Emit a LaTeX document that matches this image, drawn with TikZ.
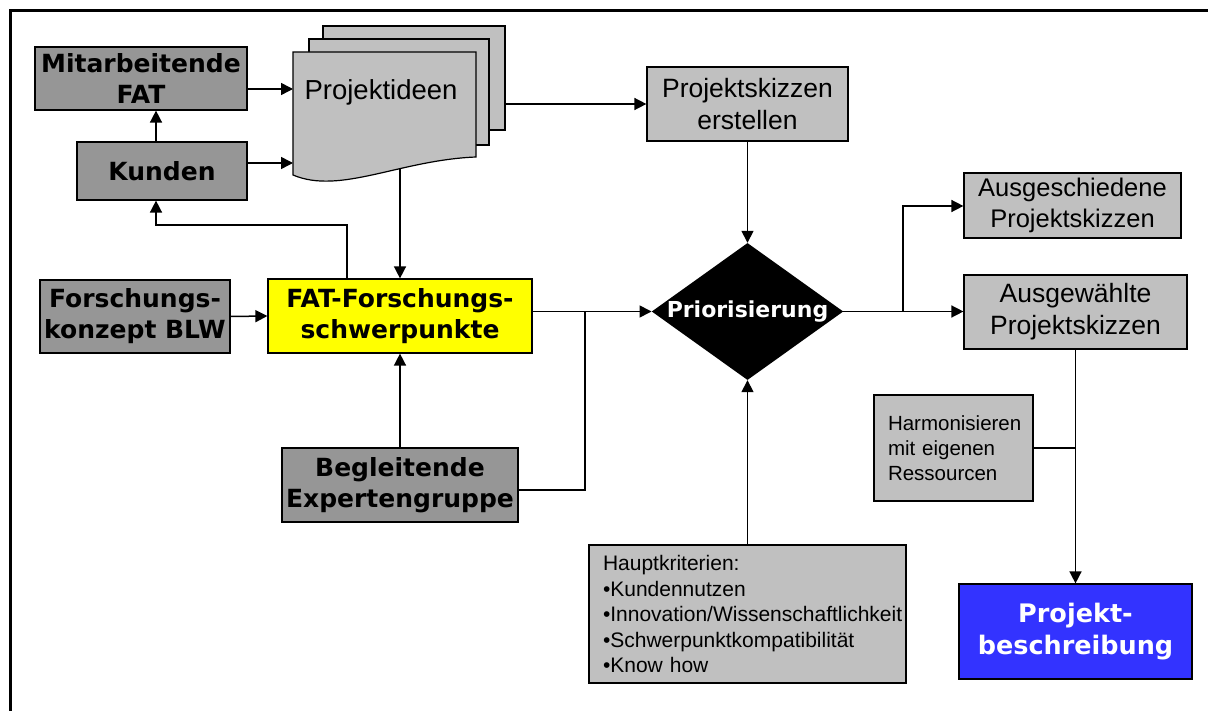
\documentclass[tikz,border=0pt]{standalone}
\usepackage{fontspec}
\setmainfont{Liberation Sans}
\newfontfamily\dv{DejaVu Sans}
\usetikzlibrary{shapes.geometric,arrows.meta}
\definecolor{dgray}{HTML}{969696}
\definecolor{lgray}{HTML}{C0C0C0}
\definecolor{pblue}{HTML}{3333FF}
\definecolor{pyellow}{HTML}{FFFF00}
\begin{document}
\begin{tikzpicture}[x=1pt,y=-1pt,
  box/.style={draw=black, line width=1.2pt, inner sep=0pt, align=center, rectangle},
  dbox/.style={box, fill=dgray, font=\dv\bfseries\fontsize{25}{31}\selectfont},
  lbox/.style={box, fill=lgray, font=\fontsize{26.5}{32}\selectfont},
  sbox/.style={box, fill=lgray, font=\fontsize{21}{25.5}\selectfont, align=left, inner xsep=14pt},
  conn/.style={line width=1.5pt},
  arr/.style={conn, -{Triangle[length=12pt,width=12pt]}},
]
\useasboundingbox (0,0) rectangle (1208,711);
\fill[white] (0,0) rectangle (1208,711);
\draw[line width=3pt] (10,711) -- (10,11) -- (1208,11);

% Projektideen stack
\node[box, fill=lgray, minimum width=182, minimum height=104] (ideen3) at (414,78) {};
\node[box, fill=lgray, minimum width=180, minimum height=106] (ideen2) at (399,92) {};
\draw[fill=lgray, line width=1.2pt] (293,52) -- (476,52) -- (476,157)
  .. controls (400,160) and (340,195) .. (293,175) -- cycle;
\coordinate (idL) at (293,52);
\coordinate (idB) at (400,168);
\node[font=\fontsize{27.5}{32}\selectfont, anchor=base, inner sep=0pt] (ideen) at (381,100) {Projektideen};

% boxes
\node[dbox, minimum width=212, minimum height=63] (mit) at (141,78.5) {Mitarbeitende\\FAT};
\node[dbox, minimum width=170, minimum height=58] (kun) at (162,171) {Kunden};
\node[dbox, minimum width=190, minimum height=73] (fk) at (135,316.5) {Forschungs-\\konzept BLW};
\node[dbox, fill=pyellow, minimum width=264, minimum height=74] (fat) at (400,316) {FAT-Forschungs-\\schwerpunkte};
\node[dbox, minimum width=236, minimum height=74] (beg) at (400,485) {Begleitende\\Expertengruppe};
\node[lbox, minimum width=201, minimum height=74] (psk) at (747.5,104) {Projektskizzen\\erstellen};
\node[diamond, fill=black, text=white, minimum width=191, minimum height=137, inner sep=0pt, aspect=1.4,
  font=\dv\bfseries\fontsize{22}{26}\selectfont] (prio) at (747.5,311.5) {Priorisierung};
\node[sbox, minimum width=317, minimum height=138, text width=289] (haupt) at (747.5,614)
  {Hauptkriterien:\\•Kundennutzen\\•Innovation/Wissenschaftlichkeit\\•Schwerpunktkompatibilität\\•Know how};
\node[lbox, minimum width=217, minimum height=65, font=\fontsize{25.5}{31}\selectfont] (aus1) at (1072.5,205.5) {Ausgeschiedene\\Projektskizzen};
\node[lbox, minimum width=223, minimum height=74] (aus2) at (1075.5,312) {Ausgewählte\\Projektskizzen};
\node[sbox, minimum width=159, minimum height=106, text width=131, font=\fontsize{20.5}{25}\selectfont] (harm) at (953.5,448) {Harmonisieren\\mit eigenen\\Ressourcen};
\node[dbox, fill=pblue, text=white, minimum width=233, minimum height=95, font=\dv\bfseries\fontsize{25.5}{32}\selectfont] (pb) at (1075.5,631.5) {Projekt-\\beschreibung};

% connectors
\draw[arr] (156,0 |- kun.north) -- (156,0 |- mit.south);
\draw[arr] (mit.east |- 0,89) -- (idL |- 0,89);
\draw[arr] (kun.east |- 0,163) -- (idL |- 0,163);
\draw[arr] (ideen3.east |- 0,104) -- (psk.west |- 0,104);
\draw[arr] (idB) -- (idB |- fat.north);
\draw[arr] (347,0 |- fat.north) |- (156,225) -- (156,0 |- kun.south);
\draw[arr] (fk.east) -- (fat.west);
\draw[arr] (beg.north) -- (fat.south);
\draw[arr] (fat.east |- prio.west) -- (prio.west);
\draw[conn] (beg.east |- 0,490) -| (585,0 |- prio.west);
\draw[arr] (psk.south) -- (prio.north);
\draw[arr] (haupt.north) -- (prio.south);
\draw[arr] (prio.east) -- (aus2.west |- prio.east);
\draw[arr] (903,0 |- prio.east) |- (aus1.west |- 0,206);
\draw[arr] (aus2.south) -- (pb.north);
\draw[conn] (harm.east) -- (aus2.south |- harm.east);
\end{tikzpicture}
\end{document}
